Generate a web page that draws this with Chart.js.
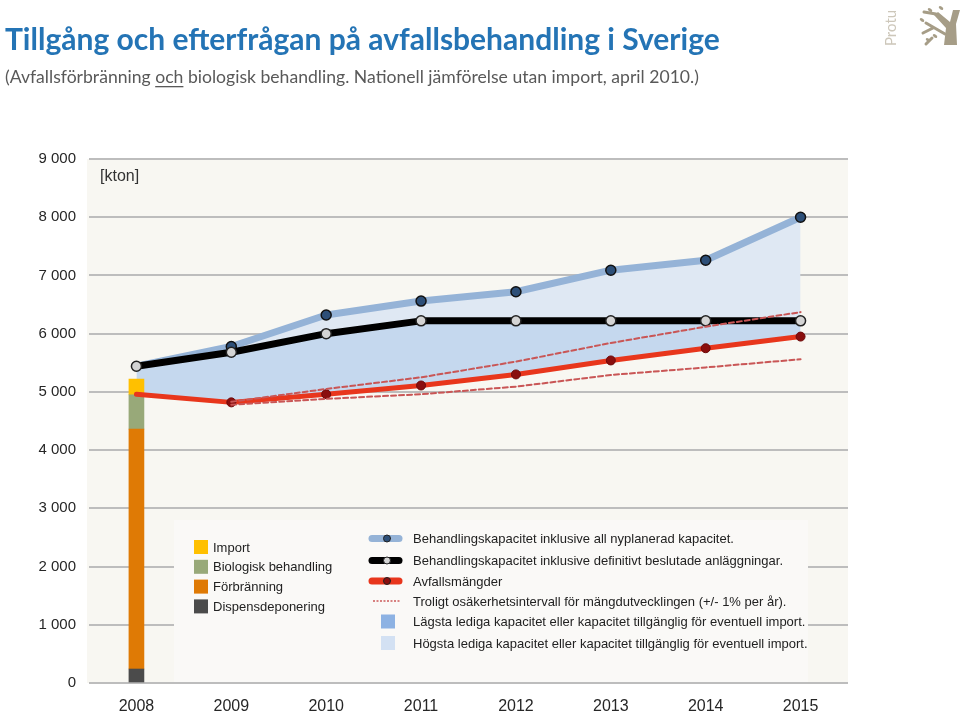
<!DOCTYPE html>
<html lang="sv">
<head>
  <meta charset="UTF-8">
  <title>Tillgång och efterfrågan på avfallsbehandling i Sverige</title>
  <script src="https://cdn.jsdelivr.net/npm/chart.js"></script>
  <style>
    body { margin: 0; background: #fff; }
  </style>
</head>
<body>
  <canvas id="myChart" width="960" height="713"></canvas>
  <script>
    // data
    const years = ['2008', '2009', '2010', '2011', '2012', '2013', '2014', '2015'];
    const capAll = [5440, 5780, 6320, 6560, 6720, 7090, 7260, 8000];
    const capDecided = [5440, 5680, 6000, 6220, 6220, 6220, 6220, 6220];
    const waste = [4960, 4820, 4960, 5110, 5300, 5540, 5750, 5950];
    const upperBand = [null, 4830, 5050, 5250, 5520, 5840, 6120, 6370];
    const lowerBand = [null, 4780, 4880, 4960, 5090, 5290, 5420, 5560];
    const dispens = [240, null, null, null, null, null, null, null];
    const forbranning = [4120, null, null, null, null, null, null, null];
    const biologisk = [590, null, null, null, null, null, null, null];
    const importBar = [270, null, null, null, null, null, null, null];
    const yTickLabels = ['0', '1 000', '2 000', '3 000', '4 000', '5 000', '6 000', '7 000', '8 000', '9 000'];

    const barLegend = [
      ['Import', '#ffc000'],
      ['Biologisk behandling', '#98a979'],
      ['Förbränning', '#df7a05'],
      ['Dispensdeponering', '#4b4b4b']
    ];
    const lineLegend = [
      'Behandlingskapacitet inklusive all nyplanerad kapacitet.',
      'Behandlingskapacitet inklusive definitivt beslutade anläggningar.',
      'Avfallsmängder',
      'Troligt osäkerhetsintervall för mängdutvecklingen (+/- 1% per år).',
      'Lägsta lediga kapacitet eller kapacitet tillgänglig för eventuell import.',
      'Högsta lediga kapacitet eller kapacitet tillgänglig för eventuell import.'
    ];

    const blueLine = '#95b3d7';
    const darkFill = '#c5d8ee';
    const lightFill = '#dfe8f3';

    const decor = {
      id: 'decor',
      beforeDraw(chart) {
        const { ctx, chartArea: a } = chart;
        ctx.save();
        ctx.fillStyle = '#f8f7f2';
        ctx.fillRect(a.left - 2, a.top, a.right - a.left + 2, a.bottom - a.top);
        ctx.restore();
      },
      afterDraw(chart) {
        const ctx = chart.ctx;
        ctx.save();
        // title
        ctx.fillStyle = '#2474b5';
        ctx.font = 'bold 30px Lato';
        ctx.textBaseline = 'alphabetic';
        ctx.fillText('Tillgång och efterfrågan på avfallsbehandling i Sverige', 5, 50);
        // subtitle with underlined "och"
        ctx.fillStyle = '#595959';
        ctx.font = '17.6px Lato';
        let x = 5;
        const parts = ['(Avfallsförbränning ', 'och', ' biologisk behandling. Nationell jämförelse utan import, april 2010.)'];
        parts.forEach((p, i) => {
          ctx.fillText(p, x, 83);
          const w = ctx.measureText(p).width;
          if (i === 1) {
            ctx.fillRect(x, 86, w, 1.3);
          }
          x += w;
        });
        // unit
        ctx.fillStyle = '#333';
        ctx.font = '16px "Liberation Sans"';
        ctx.fillText('[kton]', 100, 181);

        // legend box
        ctx.fillStyle = '#faf9f7';
        ctx.fillRect(174, 520, 634, 162);
        ctx.font = '13px "Liberation Sans"';
        ctx.textBaseline = 'middle';
        barLegend.forEach((it, i) => {
          const cy = 547 + i * 19.8;
          ctx.fillStyle = it[1];
          ctx.fillRect(194, cy - 7, 14, 14);
          ctx.fillStyle = '#222';
          ctx.fillText(it[0], 213, cy + 1);
        });
        const rows = [538.5, 560.5, 581, 601, 621.5, 643];
        const sym = [
          [blueLine, '#2d4f78'],
          ['#000', '#d4d4d4'],
          ['#e8361c', '#8a0e0e']
        ];
        rows.forEach((cy, i) => {
          if (i < 3) {
            ctx.strokeStyle = sym[i][0];
            ctx.lineWidth = 7;
            ctx.lineCap = 'round';
            ctx.beginPath();
            ctx.moveTo(372, cy);
            ctx.lineTo(399, cy);
            ctx.stroke();
            ctx.fillStyle = sym[i][1];
            ctx.strokeStyle = '#222';
            ctx.lineWidth = 1;
            ctx.beginPath();
            ctx.arc(387, cy, 3.5, 0, Math.PI * 2);
            ctx.fill();
            ctx.stroke();
          } else if (i === 3) {
            ctx.strokeStyle = '#cc5a5a';
            ctx.lineWidth = 1.6;
            ctx.lineCap = 'butt';
            ctx.setLineDash([2, 1.5]);
            ctx.beginPath();
            ctx.moveTo(373, cy);
            ctx.lineTo(400, cy);
            ctx.stroke();
            ctx.setLineDash([]);
          } else {
            ctx.fillStyle = i === 4 ? '#8db2e3' : '#d3e1f3';
            ctx.fillRect(381, cy - 7, 14, 14);
          }
          ctx.fillStyle = '#222';
          ctx.fillText(lineLegend[i], 413, cy + 1);
        });

        // logo
        ctx.translate(896, 46);
        ctx.rotate(-Math.PI / 2);
        ctx.fillStyle = '#cdc7ba';
        ctx.font = '15px Lato';
        ctx.textBaseline = 'alphabetic';
        ctx.fillText('Protu', 0, 0);
        ctx.setTransform(1, 0, 0, 1, 0, 0);
        ctx.fillStyle = '#a69d87';
        ctx.strokeStyle = '#a69d87';
        ctx.beginPath();
        ctx.moveTo(944, 45);
        ctx.lineTo(957, 45);
        ctx.lineTo(956, 24);
        ctx.lineTo(960, 10);
        ctx.lineTo(953, 10);
        ctx.lineTo(950, 22);
        ctx.lineTo(938, 12);
        ctx.lineTo(934, 15);
        ctx.lineTo(946, 28);
        ctx.closePath();
        ctx.fill();
        ctx.lineWidth = 3;
        ctx.lineCap = 'round';
        ctx.beginPath();
        ctx.moveTo(945, 34); ctx.lineTo(926, 23);
        ctx.moveTo(936, 14); ctx.lineTo(924, 12);
        ctx.moveTo(933, 28); ctx.lineTo(923, 33);
        ctx.moveTo(926, 44); ctx.lineTo(932, 38);
        ctx.stroke();
        [[930, 10], [941, 8], [922, 20], [935, 36], [928, 40]].forEach(p => {
          ctx.beginPath();
          ctx.ellipse(p[0], p[1], 2.5, 1.5, 0.6, 0, Math.PI * 2);
          ctx.fill();
        });
        ctx.restore();
      }
    };

    function barSet(label, data, color) {
      return {
        type: 'bar', label: label, data: data, backgroundColor: color,
        stack: 'bars', barThickness: 15, order: 10
      };
    }

    const ctx = document.getElementById('myChart').getContext('2d');
    const myChart = new Chart(ctx, {
      type: 'line',
      data: {
        labels: years,
        datasets: [
          {
            label: 'upper', data: upperBand, stack: 'u', borderColor: '#c95656',
            borderWidth: 2, borderDash: [5, 3], pointRadius: 0, fill: false, order: 1
          },
          {
            label: 'lower', data: lowerBand, stack: 'l', borderColor: '#c95656',
            borderWidth: 2, borderDash: [5, 3], pointRadius: 0, fill: false, order: 2
          },
          {
            label: lineLegend[2], data: waste, stack: 'w', borderColor: '#e8361c',
            borderWidth: 5, pointRadius: [0, 4.5, 4.5, 4.5, 4.5, 4.5, 4.5, 4.5],
            pointBackgroundColor: '#8a0e0e', pointBorderColor: '#6e0a0a', pointBorderWidth: 1,
            fill: false, order: 3
          },
          {
            label: lineLegend[1], data: capDecided, stack: 'd', borderColor: '#000',
            borderWidth: 7, pointRadius: 5, pointBackgroundColor: '#d4d4d4',
            pointBorderColor: '#222', pointBorderWidth: 1.5,
            fill: { target: 2 }, backgroundColor: darkFill, order: 4
          },
          {
            label: lineLegend[0], data: capAll, stack: 'a', borderColor: blueLine,
            borderWidth: 7, pointRadius: [0, 5, 5, 5, 5, 5, 5, 5], pointBackgroundColor: '#2d4f78',
            pointBorderColor: '#111', pointBorderWidth: 1.5,
            fill: { target: 3 }, backgroundColor: lightFill, order: 5
          },
          barSet('Dispensdeponering', dispens, '#4b4b4b'),
          barSet('Förbränning', forbranning, '#df7a05'),
          barSet('Biologisk behandling', biologisk, '#98a979'),
          barSet('Import', importBar, '#ffc000')
        ]
      },
      options: {
        responsive: false,
        animation: false,
        elements: { line: { tension: 0, borderJoinStyle: 'round', borderCapStyle: 'round' } },
        layout: { padding: { top: 159, right: 112, bottom: 0, left: 0 } },
        plugins: {
          legend: { display: false },
          tooltip: { enabled: false },
          filler: { drawTime: 'beforeDatasetsDraw' }
        },
        scales: {
          x: {
            offset: true,
            stacked: true,
            grid: { display: false },
            border: { display: false },
            ticks: { color: '#262626', font: { family: 'Liberation Sans', size: 16 }, padding: 6, maxRotation: 0 },
            afterFit(s) { s.height = 30; }
          },
          y: {
            stacked: true,
            min: 0,
            max: 9000,
            grid: { color: '#bdbdbd', lineWidth: 2, drawTicks: false },
            border: { display: false },
            ticks: {
              stepSize: 1000,
              color: '#262626',
              font: { family: 'Liberation Sans', size: 15 },
              padding: 13,
              callback: (v, i) => yTickLabels[i]
            },
            afterFit(s) { s.width = 89; }
          }
        }
      },
      plugins: [decor]
    });
  </script>
</body>
</html>
